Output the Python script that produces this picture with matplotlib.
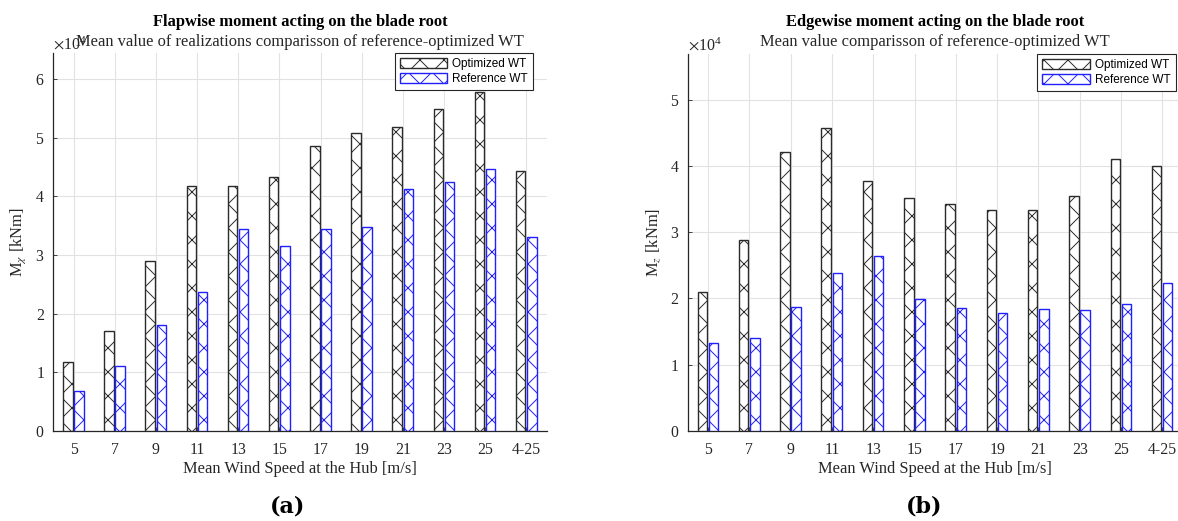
import numpy as np
import matplotlib
matplotlib.use("Agg")
import matplotlib.pyplot as plt
from matplotlib.ticker import ScalarFormatter

DPI = 72
F = 100 / DPI  # point sizes are given for a 100-dpi canvas

plt.rcParams["font.family"] = ["Liberation Serif", "DejaVu Serif"]
plt.rcParams["mathtext.fontset"] = "stix"
plt.rcParams["hatch.linewidth"] = 0.7 * F

categories = ["5", "7", "9", "11", "13", "15", "17", "19", "21", "23", "25", "4-25"]

flap_optimized = [1.18, 1.71, 2.90, 4.17, 4.17, 4.32, 4.85, 5.07, 5.18, 5.48, 5.78, 4.43]
flap_reference = [0.69, 1.10, 1.80, 2.36, 3.44, 3.15, 3.44, 3.47, 4.12, 4.24, 4.47, 3.31]

edge_optimized = [2.10, 2.88, 4.21, 4.57, 3.77, 3.52, 3.42, 3.34, 3.33, 3.54, 4.11, 4.00]
edge_reference = [1.33, 1.40, 1.87, 2.39, 2.64, 1.99, 1.85, 1.78, 1.84, 1.82, 1.92, 2.23]

scale = 1e4

W, H = 1178, 521
fig = plt.figure(figsize=(W / DPI, H / DPI), dpi=DPI)
ax_a = fig.add_axes([53 / W, 1 - 431 / H, 494 / W, 378 / H])
ax_b = fig.add_axes([687.5 / W, 1 - 431 / H, 495.5 / W, 377 / H])

TXT = "#262626"


def draw_panel(ax, opt, ref, title, subtitle, ylabel, ytop, yticks, leg_x):
    x = np.arange(len(categories))
    w = 0.23
    opt_v = np.array(opt) * scale
    ref_v = np.array(ref) * scale
    ax.bar(x - 0.14, opt_v, w, facecolor="white", edgecolor="#2b2b2b",
           hatch="x", linewidth=1.0 * F, label="Optimized WT", zorder=3)
    ax.bar(x + 0.13, ref_v, w, facecolor="white", edgecolor="#2020ff",
           hatch="x", linewidth=1.0 * F, label="Reference WT", zorder=3)
    ax.set_xlim(-0.5, 11.5)
    ax.set_ylim(0, ytop * scale)
    ax.set_xticks(x)
    ax.set_xticklabels(categories)
    ax.set_yticks(np.array(yticks) * scale)
    fmt = ScalarFormatter(useMathText=True)
    fmt.set_powerlimits((0, 0))
    ax.yaxis.set_major_formatter(fmt)
    ax.yaxis.get_offset_text().set_fontsize(11.5 * F)
    ax.yaxis.get_offset_text().set_color("#404040")
    ax.grid(True, color="#e2e2e2", linewidth=0.8 * F, zorder=0)
    ax.set_axisbelow(True)
    for s in ("top", "right"):
        ax.spines[s].set_visible(False)
    for s in ("left", "bottom"):
        ax.spines[s].set_color(TXT)
        ax.spines[s].set_linewidth(0.9 * F)
    ax.tick_params(axis="both", labelsize=11.3 * F, colors=TXT,
                   direction="in", length=3 * F, width=0.6 * F)
    ax.tick_params(axis="x", pad=8 * F)
    ax.tick_params(axis="y", pad=6 * F)
    ax.set_xlabel("Mean Wind Speed at the Hub [m/s]", fontsize=11.9 * F,
                  color=TXT, labelpad=2 * F)
    ax.set_ylabel(ylabel, fontsize=11.9 * F, color=TXT, labelpad=5 * F)

    bb = ax.get_position()
    cx = (bb.x0 + bb.x1) / 2
    fig.text(cx, 1 - 22 / H, title, ha="center", va="center",
             fontsize=11.9 * F, fontweight="bold")
    fig.text(cx, 1 - 42 / H, subtitle, ha="center", va="center",
             fontsize=11.9 * F, color=TXT)

    leg = ax.legend(loc="upper right", bbox_to_anchor=(leg_x, 1.0),
                    borderaxespad=0,
                    prop={"family": "Liberation Sans", "size": 8.5 * F},
                    handlelength=4.0, handleheight=0.95, handletextpad=0.42,
                    borderpad=0.45, labelspacing=0.2, fancybox=False,
                    framealpha=1.0, edgecolor=TXT)
    leg.get_frame().set_linewidth(0.8 * F)


draw_panel(ax_a, flap_optimized, flap_reference,
           "Flapwise moment acting on the blade root",
           "Mean value of realizations comparisson of reference-optimized WT",
           r"M$_\chi$ [kNm]", 6.44, [0, 1, 2, 3, 4, 5, 6], 0.972)
draw_panel(ax_b, edge_optimized, edge_reference,
           "Edgewise moment acting on the blade root",
           "Mean value comparisson of reference-optimized WT",
           r"M$_z$ [kNm]", 5.69, [0, 1, 2, 3, 4, 5], 0.985)

fig.text(288 / W, 1 - 507 / H, "(a)", ha="center", va="center",
         fontsize=16 * F, fontweight="bold", family=["DejaVu Serif"])
fig.text(924 / W, 1 - 507 / H, "(b)", ha="center", va="center",
         fontsize=16 * F, fontweight="bold", family=["DejaVu Serif"])

fig.savefig("out.png", dpi=DPI)
